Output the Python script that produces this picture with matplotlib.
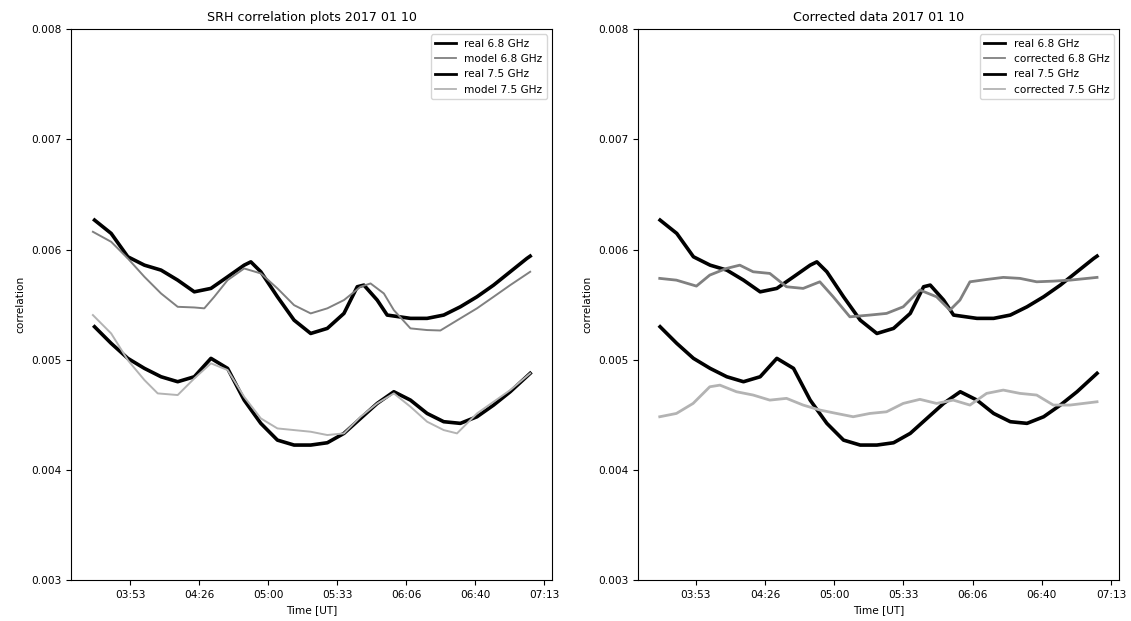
import matplotlib
matplotlib.use("Agg")
import matplotlib.pyplot as plt
from matplotlib.ticker import FuncFormatter, MultipleLocator

# time in seconds of day (UT)
t_real_68 = [12969, 13451, 13933, 14415, 14897, 15379, 15861, 16343, 16825, 17306,
             17499, 17788, 18270, 18752, 19234, 19716, 20198, 20584, 20776, 21162,
             21451, 22126, 22608, 23090, 23572, 24054, 24536, 25018, 25500, 25596]
real_68 = [0.006267, 0.006146, 0.005934, 0.005858, 0.005813, 0.005722, 0.005616, 0.005647,
           0.005752, 0.005858, 0.005888, 0.005798, 0.005571, 0.005359, 0.005238, 0.005284,
           0.005420, 0.005662, 0.005677, 0.005541, 0.005405, 0.005375, 0.005375, 0.005405,
           0.005480, 0.005571, 0.005677, 0.005798, 0.005919, 0.005940]

t_model_68 = [12921, 13451, 13933, 14415, 14897, 15379, 15861, 16150, 16439, 16825,
              17306, 17788, 18270, 18752, 19234, 19716, 20198, 20680, 20969, 21355,
              21644, 22126, 22608, 22993, 23572, 24054, 24536, 25018, 25596]
model_68 = [0.006161, 0.006070, 0.005919, 0.005752, 0.005601, 0.005480, 0.005474, 0.005466,
            0.005571, 0.005722, 0.005828, 0.005783, 0.005647, 0.005495, 0.005420, 0.005466,
            0.005541, 0.005662, 0.005692, 0.005601, 0.005450, 0.005284, 0.005269, 0.005265,
            0.005375, 0.005466, 0.005571, 0.005677, 0.005798]

t_real_75 = [12969, 13451, 13933, 14415, 14897, 15379, 15861, 16343, 16825, 17306,
             17788, 18270, 18752, 19234, 19716, 20198, 20680, 21162, 21644, 22126,
             22608, 23090, 23572, 24054, 24536, 25018, 25596]
real_75 = [0.005299, 0.005148, 0.005012, 0.004921, 0.004845, 0.004800, 0.004845, 0.005012,
           0.004921, 0.004633, 0.004422, 0.004270, 0.004225, 0.004225, 0.004246, 0.004331,
           0.004467, 0.004603, 0.004709, 0.004633, 0.004512, 0.004437, 0.004422, 0.004482,
           0.004588, 0.004709, 0.004876]

t_model_75 = [12921, 13451, 13933, 14415, 14800, 15379, 15861, 16343, 16825, 17306,
              17788, 18270, 18752, 19234, 19716, 20198, 20680, 21162, 21644, 22126,
              22608, 23090, 23475, 24054, 24536, 25018, 25596]
model_75 = [0.005405, 0.005238, 0.004996, 0.004815, 0.004694, 0.004679, 0.004830, 0.004967,
            0.004906, 0.004663, 0.004467, 0.004376, 0.004361, 0.004346, 0.004316, 0.004331,
            0.004482, 0.004603, 0.004694, 0.004573, 0.004437, 0.004361, 0.004331, 0.004512,
            0.004618, 0.004724, 0.004876]

t_corr_68 = [12959, 13441, 14019, 14405, 14886, 15272, 15658, 16140, 16622, 17103,
             17585, 17971, 18453, 19031, 19513, 19995, 20477, 20959, 21345, 21634,
             21923, 22405, 22887, 23369, 23851, 24333, 24815, 25596]
corr_68 = [0.005738, 0.005722, 0.005668, 0.005768, 0.005828, 0.005858, 0.005798, 0.005783,
           0.005662, 0.005647, 0.005707, 0.005571, 0.005389, 0.005405, 0.005420, 0.005480,
           0.005632, 0.005571, 0.005450, 0.005541, 0.005707, 0.005728, 0.005747, 0.005738,
           0.005707, 0.005713, 0.005722, 0.005747]

t_corr_75 = [12959, 13441, 13923, 14405, 14697, 15176, 15658, 16140, 16622, 17103,
             17585, 18067, 18549, 19031, 19513, 19995, 20477, 20959, 21441, 21923,
             22405, 22887, 23369, 23851, 24333, 24815, 25596]
corr_75 = [0.004482, 0.004512, 0.004603, 0.004754, 0.004769, 0.004709, 0.004679, 0.004633,
           0.004649, 0.004588, 0.004543, 0.004512, 0.004482, 0.004512, 0.004527, 0.004603,
           0.004640, 0.004603, 0.004633, 0.004588, 0.004694, 0.004724, 0.004694, 0.004679,
           0.004588, 0.004588, 0.004618]

FS = 7.6


def hhmm(x, pos):
    x = int(x)
    return f"{x // 3600:02d}:{(x % 3600) // 60:02d}"


def style_axes(ax, title):
    ax.set_ylim(0.003, 0.008)
    ax.yaxis.set_major_locator(MultipleLocator(0.001))
    ax.xaxis.set_major_locator(MultipleLocator(2000))
    ax.xaxis.set_major_formatter(FuncFormatter(hhmm))
    ax.tick_params(labelsize=FS)
    ax.set_title(title, fontsize=9.1)
    ax.set_xlabel("Time [UT]", fontsize=FS)
    ax.set_ylabel("correlation", fontsize=FS)
    leg = ax.legend(loc="upper right", fontsize=FS)
    # legend keys are thinner than the noisy curves look
    for i, line in enumerate(leg.get_lines()):
        line.set_linewidth(2.0 if i % 2 == 0 else 1.3)


fig = plt.figure(figsize=(11.31, 6.21), dpi=100)
ax1 = fig.add_axes([0.0628, 0.066, 0.4253, 0.887])
ax2 = fig.add_axes([0.564, 0.066, 0.4253, 0.887])

ax1.plot(t_real_68, real_68, color="black", lw=2.6, label="real 6.8 GHz")
ax1.plot(t_model_68, model_68, color="0.5", lw=1.4, label="model 6.8 GHz")
ax1.plot(t_real_75, real_75, color="black", lw=2.6, label="real 7.5 GHz")
ax1.plot(t_model_75, model_75, color="0.7", lw=1.4, label="model 7.5 GHz")
style_axes(ax1, "SRH correlation plots 2017 01 10")

ax2.plot(t_real_68, real_68, color="black", lw=2.6, label="real 6.8 GHz")
ax2.plot(t_corr_68, corr_68, color="0.5", lw=2.0, label="corrected 6.8 GHz")
ax2.plot(t_real_75, real_75, color="black", lw=2.6, label="real 7.5 GHz")
ax2.plot(t_corr_75, corr_75, color="0.7", lw=2.0, label="corrected 7.5 GHz")
style_axes(ax2, "Corrected data 2017 01 10")

fig.savefig("out.png", dpi=100)
